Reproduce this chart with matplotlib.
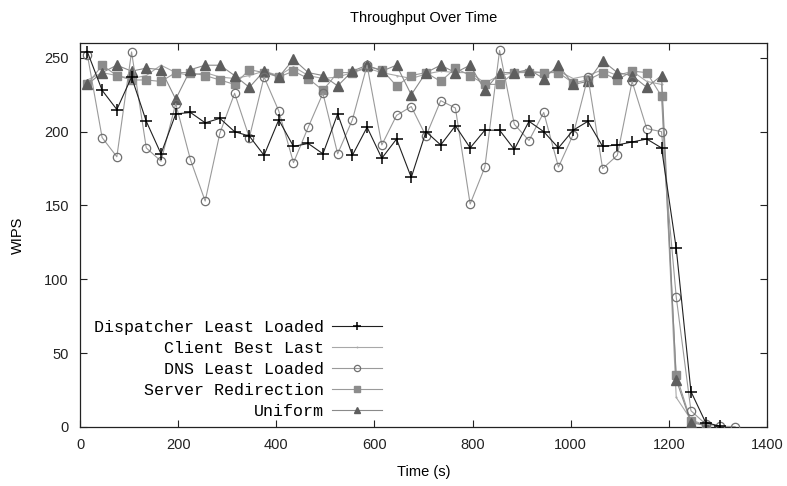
import matplotlib
matplotlib.use('Agg')
import matplotlib.pyplot as plt

# sample times (s)
time = [15, 45, 75, 105, 135, 165, 195, 225, 255, 285,
        315, 345, 375, 405, 435, 465, 495, 525, 555, 585,
        615, 645, 675, 705, 735, 765, 795, 825, 855, 885,
        915, 945, 975, 1005, 1035, 1065, 1095, 1125, 1155, 1185,
        1215, 1245, 1275, 1305, 1335]

dispatcher = [254, 228, 215, 237, 207, 185, 212, 213, 206, 209,
              200, 197, 184, 208, 190, 192, 185, 212, 184, 203,
              182, 195, 169, 200, 191, 204, 189, 201, 201, 188,
              207, 200, 189, 201, 207, 190, 191, 193, 195, 189,
              121, 24, 3, 0.5]

client_best = [235, 240, 238, 236, 238, 245, 240, 238, 240, 237,
               236, 238, 241, 238, 244, 238, 236, 237, 240, 243,
               240, 238, 236, 239, 241, 240, 240, 233, 238, 240,
               241, 240, 241, 236, 238, 242, 238, 241, 234, 232,
               20, 5, 1]

dns = [252, 196, 183, 254, 189, 180, 219, 181, 153, 199,
       226, 196, 237, 214, 179, 203, 226, 185, 208, 245,
       191, 211, 217, 197, 221, 216, 151, 176, 255, 205,
       194, 213, 176, 198, 237, 175, 184, 234, 202, 200,
       88, 11, 2, 0.5, 0.3]

server_redir = [232, 245, 238, 235, 235, 234, 240, 240, 238, 235,
                232, 242, 240, 237, 241, 236, 228, 240, 240, 244,
                242, 231, 238, 240, 234, 243, 238, 232, 232, 240,
                240, 240, 240, 233, 235, 240, 235, 241, 240, 224,
                35, 4, 1]

uniform = [232, 240, 245, 241, 243, 242, 222, 242, 245, 245,
           238, 230, 241, 237, 249, 240, 238, 231, 241, 245,
           241, 245, 225, 240, 245, 240, 245, 228, 240, 240,
           242, 236, 245, 232, 234, 248, 240, 238, 230, 238,
           32, 3, 1]

labels = ['Dispatcher Least Loaded', 'Client Best Last', 'DNS Least Loaded',
          'Server Redirection', 'Uniform']


def main():
    plt.rcParams['font.family'] = ['Liberation Sans', 'DejaVu Sans']
    fig = plt.figure(figsize=(7.87, 4.86), dpi=100)
    ax = fig.add_axes([0.1017, 0.1214, 0.8729, 0.79])

    ax.plot(time[:len(dispatcher)], dispatcher, '-', color='#202020', linewidth=0.8,
            marker='+', markersize=8, markeredgewidth=1.1, markeredgecolor='black',
            label=labels[0], zorder=6)
    ax.plot(time[:len(client_best)], client_best, '-', color='#a8a8a8', linewidth=0.8,
            marker='.', markersize=1, label=labels[1], zorder=2)
    ax.plot(time[:len(dns)], dns, '-', color='#9a9a9a', linewidth=0.8,
            marker='o', markersize=6, markerfacecolor='none', markeredgecolor='#707070',
            markeredgewidth=0.9, label=labels[2], zorder=4)
    ax.plot(time[:len(server_redir)], server_redir, '-', color='#9a9a9a', linewidth=0.8,
            marker='s', markersize=6, markerfacecolor='#8c8c8c', markeredgecolor='#8c8c8c',
            label=labels[3], zorder=3)
    ax.plot(time[:len(uniform)], uniform, '-', color='#8a8a8a', linewidth=0.8,
            marker='^', markersize=6.5, markerfacecolor='#5e5e5e', markeredgecolor='#5e5e5e',
            label=labels[4], zorder=3)

    ax.set_xlim(0, 1400)
    ax.set_ylim(0, 260)
    ax.set_xticks(range(0, 1401, 200))
    ax.set_yticks(range(0, 251, 50))
    ax.tick_params(direction='in', top=True, right=True, length=5, width=0.8,
                   labelsize=10.5, pad=8, colors='#222222')
    for s in ax.spines.values():
        s.set_linewidth(0.9)
        s.set_color('#222222')

    ax.set_title('Throughput Over Time', fontsize=10.5, pad=15)
    ax.set_xlabel('Time (s)', fontsize=10.5, labelpad=9)
    ax.set_ylabel('WIPS', fontsize=10.5, labelpad=14)

    ax.legend(loc='lower right', bbox_to_anchor=(0.44, 0.02), frameon=False,
              markerfirst=False, prop={'family': 'Liberation Mono', 'size': 12},
              handlelength=3.0, handletextpad=0.5, labelspacing=0.36,
              markerscale=0.75, borderpad=0, borderaxespad=0)

    fig.savefig('out.png', dpi=100)


if __name__ == '__main__':
    main()
